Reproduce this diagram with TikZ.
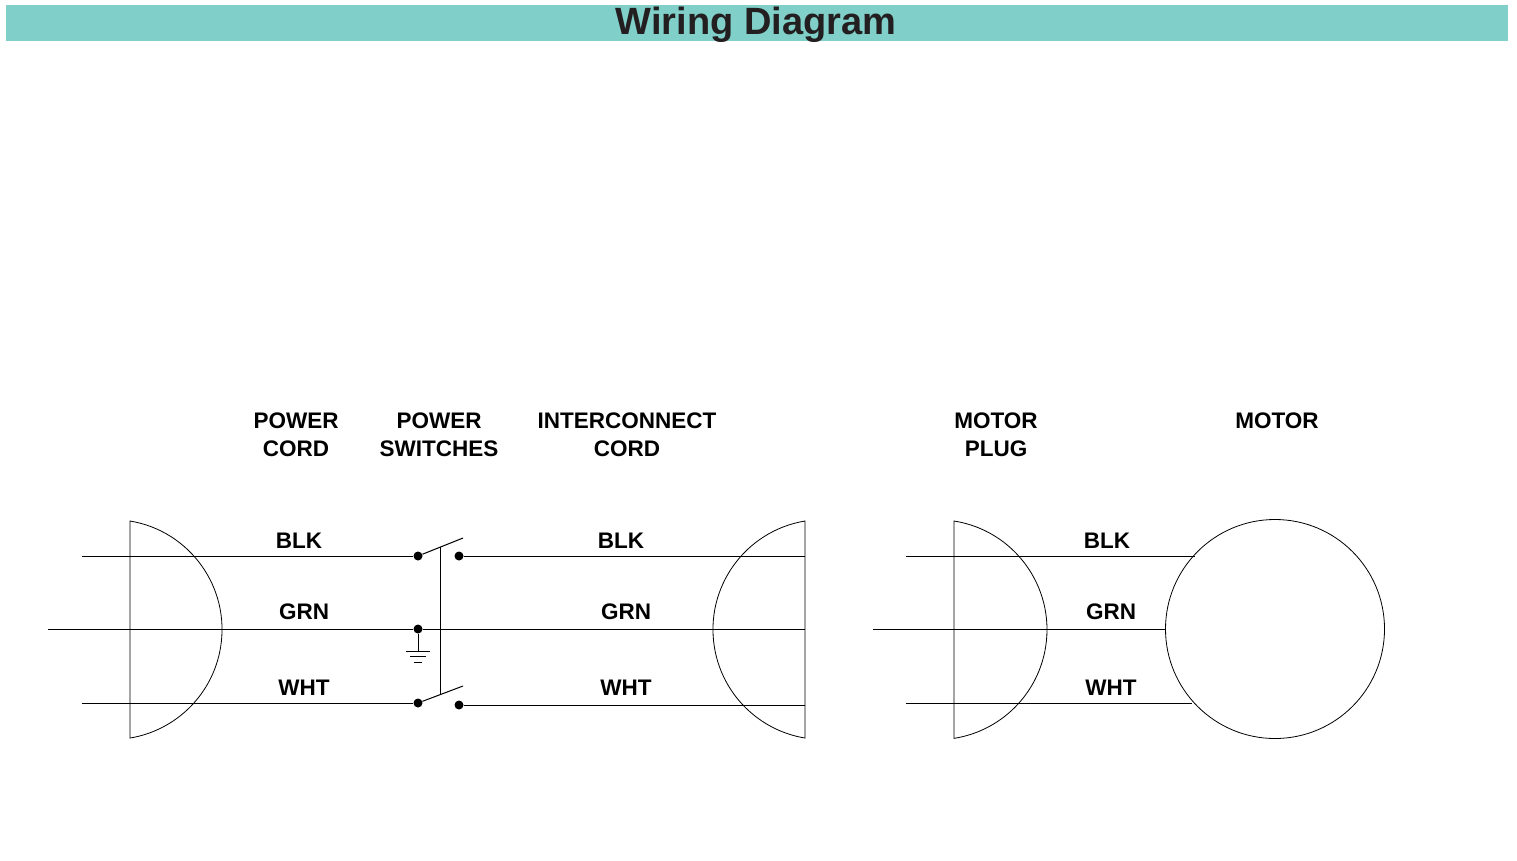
\documentclass[tikz,border=0pt]{standalone}
\usepackage{fontspec}
\setmainfont{Liberation Sans}
\usepackage{xcolor}
\definecolor{barteal}{HTML}{80CFC8}
\definecolor{titleink}{HTML}{231F20}

\begin{document}
\begin{tikzpicture}[x=1pt,y=-1pt]
\tikzset{wire/.style={line width=1pt}}
\tikzset{plug/.style={line width=0.8pt}}
\tikzset{term/.style={circle,fill,inner sep=0pt,minimum size=9pt}}
\tikzset{header/.style={align=center,anchor=base,font=\bfseries\fontsize{22.5}{28}\selectfont}}
\tikzset{wirelabel/.style={anchor=base,font=\bfseries\fontsize{22.5}{28}\selectfont}}

\useasboundingbox (0,0) rectangle (1517,860);

% title bar
\fill[barteal] (6,5) rectangle (1508,41);
\node[anchor=base,text=titleink,font=\bfseries\fontsize{38}{42}\selectfont] (title) at (756,34) {Wiring Diagram};

% headers
\node[header] (hcord) at (296,456) {POWER\\CORD};
\node[header] (hswitch) at (439,456) {POWER\\SWITCHES};
\node[header] (hinter) at (627,456) {INTERCONNECT\\CORD};
\node[header] (hplug) at (996,456) {MOTOR\\PLUG};
\node[header] (hmotor) at (1277,428) {MOTOR};

% plugs
\draw[plug] (130,521) arc[start angle=80.6,end angle=-80.6,radius=110pt] -- cycle;
\draw[plug] (805,521) arc[start angle=99.4,end angle=260.6,radius=110pt] -- cycle;
\draw[plug] (954,521) arc[start angle=81.1,end angle=-81.1,radius=110pt] -- cycle;

% motor
\node[circle,draw,line width=0.8pt,inner sep=0pt,minimum size=219pt] (motor) at (1275,629) {};

% terminals
\node[term] (s1a) at (418,556) {};
\node[term] (s1b) at (459,556) {};
\node[term] (gdot) at (418,629) {};
\node[term] (s2a) at (418,703) {};
\node[term] (s2b) at (459,705) {};

\coordinate (pc-blk) at (82,556);
\coordinate (pc-grn) at (48,629);
\coordinate (pc-wht) at (82,703);
\coordinate (ic-blk) at (805,556);
\coordinate (ic-grn) at (805,629);
\coordinate (ic-wht) at (805,705);
\coordinate (mp-blk) at (906,556);
\coordinate (mp-grn) at (873,629);
\coordinate (mp-wht) at (906,703);
\coordinate (blade1) at (463,538);
\coordinate (blade2) at (463,686);
\coordinate (link1) at (440,547);
\coordinate (link2) at (440,694);
\coordinate (gnd) at (418,651);

% wires
\draw[wire] (pc-blk) -- (s1a);
\draw[wire] (pc-grn) -- (gdot) -- (ic-grn);
\draw[wire] (pc-wht) -- (s2a);
\draw[wire] (s1b) -- (ic-blk);
\draw[wire] (s2b) -- (ic-wht);
\draw[wire] (mp-blk) -- (mp-blk -| motor.137.7);
\draw[wire] (mp-grn) -- (motor.west);
\draw[wire] (mp-wht) -- (mp-wht -| motor.221.6);

% switches
\draw[wire] (s1a) -- (blade1);
\draw[wire] (s2a) -- (blade2);
\draw[wire] (link1) -- (link2);

% ground
\draw[wire] (gdot) -- (gnd);
\draw[wire] (gnd) ++(-12,0) -- ++(24,0);
\draw[wire] (gnd) ++(-8,5.5) -- ++(16,0);
\draw[wire] (gnd) ++(-4,11) -- ++(8,0);

% wire colours
\node[wirelabel] (l-blk1) at (299,548) {BLK};
\node[wirelabel] (l-grn1) at (304,619) {GRN};
\node[wirelabel] (l-wht1) at (304,695) {WHT};
\node[wirelabel] (l-blk2) at (621,548) {BLK};
\node[wirelabel] (l-grn2) at (626,619) {GRN};
\node[wirelabel] (l-wht2) at (626,695) {WHT};
\node[wirelabel] (l-blk3) at (1107,548) {BLK};
\node[wirelabel] (l-grn3) at (1111,619) {GRN};
\node[wirelabel] (l-wht3) at (1111,695) {WHT};

\end{tikzpicture}
\end{document}
